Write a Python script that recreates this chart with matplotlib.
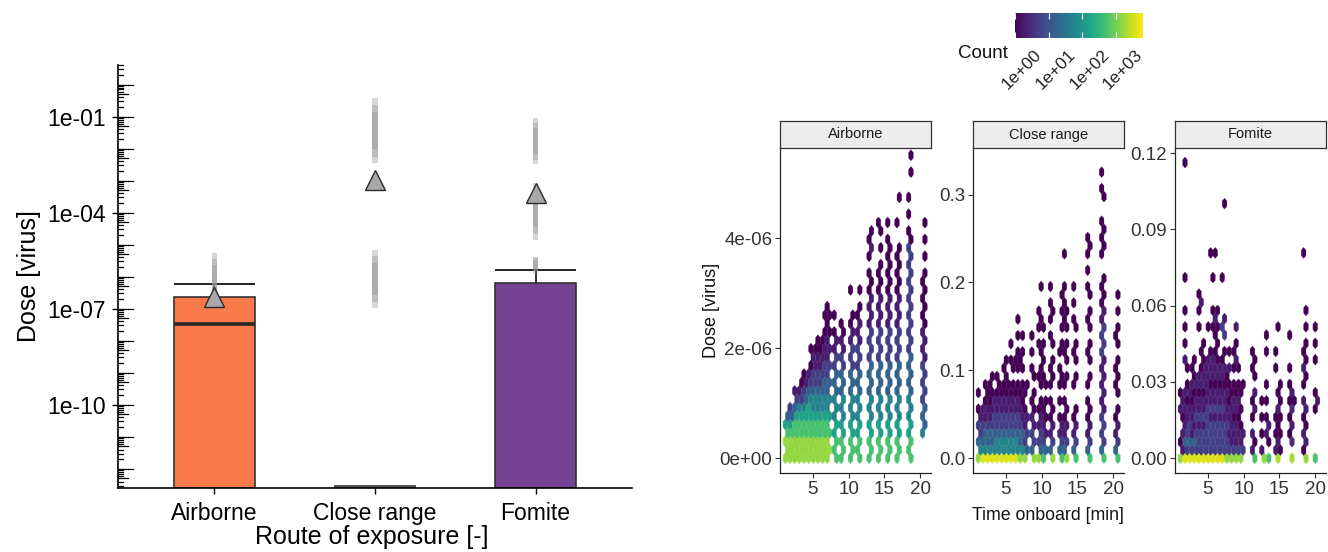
import numpy as np
import matplotlib
matplotlib.use('Agg')
import matplotlib.pyplot as plt
from matplotlib.colors import LogNorm
from matplotlib.cm import ScalarMappable
from matplotlib.ticker import FixedLocator, NullLocator, FuncFormatter
from matplotlib.transforms import blended_transform_factory, offset_copy

plt.rcParams['font.family'] = ['Liberation Sans', 'DejaVu Sans']

# =====================================================================
# Left panel: dose per route of exposure (log scale)
# =====================================================================
ROUTES = ['Airborne', 'Close range', 'Fomite']
BAR_TOP = [2.4e-7, 2.9e-13, 6.3e-7]
BAR_MEDIAN = [3.3e-8, np.nan, np.nan]
ERR_TOP = [5.9e-7, np.nan, 1.6e-6]
MEAN_DOSE = [2.3e-7, 1.05e-3, 4.1e-4]
BAR_COLORS = ['#F8794A', '#FFFFFF', '#764294']

# grey streaks of individual simulated doses
STREAK_ROUTE = [0, 1, 1, 2, 2, 2]
STREAK_LO = [1.1e-7, 3.5e-3, 1.05e-7, 3.2e-3, 1.4e-5, 1.3e-6]
STREAK_HI = [5.4e-6, 0.38, 6.8e-6, 0.09, 8.3e-4, 4.2e-6]

LEFT_YTICKS = [1e-1, 1e-4, 1e-7, 1e-10]
LEFT_YTICKLABELS = ['1e-01', '1e-04', '1e-07', '1e-10']

# =====================================================================
# Right panels: hexbin of dose vs time onboard
# each chain = time value + count level per hex row (row 0 = dose 0)
# =====================================================================
LEVEL_COUNT = {'1': 1, '2': 2, '3': 5, '4': 15, '5': 50,
               '6': 150, '7': 500, '8': 1500, '9': 4000}

AIR_ROW_STEP = 0.153e-6
AIR_T = [1.31, 1.96, 2.61, 3.26, 3.91, 4.56, 5.21, 5.86, 6.51, 7.16,
         8.2, 9.2, 10.4, 11.55, 13.0, 14.2, 15.6, 16.8, 18.7, 20.6]
AIR_LEVELS = [
    "888764",
    "8887643",
    "888776432",
    "8887765321",
    "88877654321",
    "888776654321.1",
    "88877655433221",
    "888776554332211",
    "8887765544332211.1",
    "8887765544332221111",
    "7776655544433221.1",
    "77766555444332211",
    "777665554443332211..1",
    "7776655544433322211.1",
    "77766555444433332222111.1211",
    "777665554444333322221111.1.11",
    "777665554444333322221111111.1",
    "77766555444433332222111111..1..1",
    "77766555444443333333333333" + "11.1.1..1.1",
    "...54443333322221111111.1.1.1",
]

CLOSE_ROW_STEP = 0.0093
CLOSE_T = [1.31, 1.96, 2.61, 3.26, 3.91, 4.56, 5.21, 5.86, 6.51, 7.16, 7.81,
           8.7, 9.6, 10.3, 11.3, 12.8, 13.3, 14.8, 16.7, 18.6, 20.4]
CLOSE_LEVELS = [
    "8543321.1",
    "95443221.1",
    "9544322111",
    "954433221.1",
    "95543322111",
    "9554332211.1",
    "95543322111.1",
    "9554332211.11.1",
    "9554332211.111.1.1",
    "8544322111.111.1",
    "8433221.11",
    "843322111.11.1.1",
    "84332211.111.11.111..1",
    "74322111.11.1.1.1",
    "84322111.1111.11.111.1",
    "743221.1.111.11.1.1.1",
    "84322111.11.111.1111.1...1",
    "7432211..11.111.11.1.1",
    "74322111.11.111.111.11.1.111",
    "7433332222222333322" + "1111..11111..11.1",
    "7432211.11111.111.1.1",
]

FOM_ROW_STEP = 0.00323
FOM_T = [1.31, 1.96, 2.61, 3.26, 3.91, 4.56, 5.21, 5.86, 6.51, 7.16, 7.81, 8.46, 9.11,
         9.8, 11.5, 12.7, 13.5, 14.6, 15.1, 16.5, 17.0, 18.6, 20.3]
FOM_LEVELS = [
    "8212.1221",
    "9343222121.12.1.1.1...1" + ".............1",
    "9342322122.1",
    "93432322121.1",
    "933323221221.1..1.121",
    "9333232212221.1",
    "93333232212221..1........1",
    "93333232212221.1121...1..1",
    "9333323221221.1.1.1",
    "93333232212211.332....1........1",
    "833232212112.1",
    "8322212211.1.1",
    "8322212211.12.1.2",
    "83221.1.11",
    "7212.1212.1111",
    "82.1.1.1",
    "7.1221.1.1...1.1",
    "82.1.12.1..1.1..1",
    "712111.1.1",
    "8.21112121.1...1",
    "7.1.1.11",
    "81221122.112111.1.1" + "......1",
    "7.....121...1.1.1",
]

PANELS = ['Airborne', 'Close range', 'Fomite']
CBAR_TICKS = [1, 10, 100, 1000]
CBAR_LABELS = ['1e+00', '1e+01', '1e+02', '1e+03']


def chain_points(times, levels, row_step):
    xs, ys, cs = [], [], []
    for t, col in zip(times, levels):
        for r, ch in enumerate(col):
            if ch == '.':
                continue
            xs.append(t)
            ys.append(r * row_step)
            cs.append(LEVEL_COUNT[ch])
    return np.array(xs), np.array(ys), np.array(cs, dtype=float)


W, H = 1328, 552
fig = plt.figure(figsize=(W / 100, H / 100), dpi=100)


def px_axes(x0, y0, x1, y1):
    return fig.add_axes([x0 / W, (H - y1) / H, (x1 - x0) / W, (y1 - y0) / H])


# ---------------------------------------------------------------------
# left panel
# ---------------------------------------------------------------------
ax = px_axes(118, 65, 632, 488)
ymin, ymax = 10 ** -12.6, 10 ** 0.61
ax.set_yscale('log')
ax.set_ylim(ymin, ymax)
ax.set_xlim(-0.6, 2.6)
xpos = np.arange(len(ROUTES))
bw = 0.5

ax.bar(xpos, np.array(BAR_TOP) - ymin, bottom=ymin, width=bw, color=BAR_COLORS,
       edgecolor='#333333', linewidth=1.2, zorder=2)
for x, med in zip(xpos, BAR_MEDIAN):
    if not np.isnan(med):
        ax.hlines(med, x - bw / 2, x + bw / 2, color='#262626', lw=2.6, zorder=3)
for x, top, err in zip(xpos, BAR_TOP, ERR_TOP):
    if not np.isnan(err):
        ax.vlines(x, top, err, color='#111111', lw=1.2, zorder=3)
        ax.hlines(err, x - bw / 2, x + bw / 2, color='#111111', lw=1.3, zorder=3)

# streaks: filled strips, layered so the middle is denser than the ends
sw = 0.032
for ri, lo, hi in zip(STREAK_ROUTE, STREAK_LO, STREAK_HI):
    span = np.log10(hi) - np.log10(lo)
    for cut, a in [(0.0, 0.4), (0.1, 0.4), (0.22, 0.45)]:
        a_lo = 10 ** (np.log10(lo) + cut * span)
        a_hi = 10 ** (np.log10(hi) - cut * span)
        ax.fill_between([xpos[ri] - sw / 2, xpos[ri] + sw / 2], a_lo, a_hi,
                        color='#999999', alpha=a, lw=0, zorder=4)

ax.plot(xpos, MEAN_DOSE, ls='none', marker='^', ms=15, mfc='#A8A8A8', mec='#2b2b2b',
        mew=1.0, zorder=6)

# log ticks drawn inside the axis
ytr = ax.get_yaxis_transform()
for dec in range(-13, 1):
    for m in range(1, 10):
        v = m * 10.0 ** dec
        if v < ymin or v > ymax:
            continue
        L = 0.029 if m == 1 else (0.019 if m == 5 else 0.010)
        ax.plot([0, L], [v, v], color='black', lw=0.9, transform=ytr, zorder=5, clip_on=False)

ax.yaxis.set_major_locator(FixedLocator(LEFT_YTICKS))
ax.set_yticklabels(LEFT_YTICKLABELS)
ax.yaxis.set_minor_locator(NullLocator())
ax.set_xticks(xpos)
ax.set_xticklabels(ROUTES)
ax.tick_params(axis='both', labelsize=16.5, length=4, width=1.0, color='black',
               labelcolor='black', pad=5)
ax.tick_params(axis='x', pad=6)
for s in ['top', 'right']:
    ax.spines[s].set_visible(False)
for s in ['left', 'bottom']:
    ax.spines[s].set_linewidth(1.2)
fig.text(29 / W, 1 - 276 / H, 'Dose [virus]', rotation=90, ha='center', va='center', fontsize=18)
fig.text(372 / W, 1 - 537 / H, 'Route of exposure [-]', ha='center', va='center', fontsize=18)

# ---------------------------------------------------------------------
# right panels
# ---------------------------------------------------------------------
norm = LogNorm(vmin=1, vmax=6300)
panel_left = [780, 973, 1175]
panel_w = 151
p_top, p_bot, strip_top = 148, 473, 121
x_ext = (0.5, 21.3)
nx, ny = 32, 19

panel_data = [
    (AIR_T, AIR_LEVELS, AIR_ROW_STEP, (-0.27e-6, 5.64e-6), [0, 2e-6, 4e-6],
     lambda v, p: f"{v:.0e}"),
    (CLOSE_T, CLOSE_LEVELS, CLOSE_ROW_STEP, (-0.017, 0.353), [0, 0.1, 0.2, 0.3],
     lambda v, p: f"{v:.1f}"),
    (FOM_T, FOM_LEVELS, FOM_ROW_STEP, (-0.0058, 0.122), [0, 0.03, 0.06, 0.09, 0.12],
     lambda v, p: f"{v:.2f}"),
]

for i, (times, levels, step, ylim, yt, fmt) in enumerate(panel_data):
    x0 = panel_left[i]
    axh = px_axes(x0, p_top, x0 + panel_w, p_bot)
    xs, ys, cs = chain_points(times, levels, step)
    axh.hexbin(xs, ys, C=cs, reduce_C_function=np.sum, gridsize=(nx, ny),
               extent=(x_ext[0], x_ext[1], 0, ny * 2 * step), cmap='viridis',
               norm=norm, mincnt=1, linewidths=0.2, edgecolors='face')
    axh.set_xlim(0.4, 21.5)
    axh.set_ylim(*ylim)
    axh.set_xticks([5, 10, 15, 20])
    axh.set_yticks(yt)
    axh.yaxis.set_major_formatter(FuncFormatter(fmt))
    axh.tick_params(labelsize=13.5, length=3.5, width=0.8, color='#333333',
                    labelcolor='#333333', pad=2)
    for s in ['top', 'right']:
        axh.spines[s].set_visible(False)
    for s in ['left', 'bottom']:
        axh.spines[s].set_linewidth(0.9)
        axh.spines[s].set_color('#222222')

    axs = px_axes(x0, strip_top, x0 + panel_w, p_top)
    axs.set_facecolor('#EDEDED')
    axs.set_xticks([])
    axs.set_yticks([])
    for s in axs.spines.values():
        s.set_linewidth(0.9)
        s.set_color('#333333')
    axs.text(0.5, 0.5, PANELS[i], ha='center', va='center', fontsize=10.5,
             color='#1a1a1a', transform=axs.transAxes)

fig.text(712 / W, 1 - 310 / H, 'Dose [virus]', rotation=90, ha='center', va='center',
         fontsize=13, color='#111111')
fig.text(1048 / W, 1 - 515 / H, 'Time onboard [min]', ha='center', va='center',
         fontsize=12.8, color='#111111')

# colorbar
cax = px_axes(1015, 13, 1143, 38)
cb = fig.colorbar(ScalarMappable(norm=norm, cmap='viridis'), cax=cax, orientation='horizontal')
cb.outline.set_visible(False)
cb.set_ticks(CBAR_TICKS)
cax.xaxis.set_minor_locator(NullLocator())
cax.tick_params(axis='x', direction='in', color='white', length=4, width=0.8,
                top=True, bottom=True, labelbottom=False)
tr = offset_copy(blended_transform_factory(cax.transData, fig.transFigure),
                 fig=fig, x=19, y=0, units='dots')
for v, lab in zip(CBAR_TICKS, CBAR_LABELS):
    cax.text(v, 1 - 47 / H, lab, transform=tr, rotation=45, rotation_mode='anchor',
             ha='right', va='top', fontsize=12.5, color='#222222')
fig.text(958 / W, 1 - 54 / H, 'Count', ha='left', va='center', fontsize=13.5, color='#111111')

fig.savefig('out.png', dpi=100, facecolor='white')
